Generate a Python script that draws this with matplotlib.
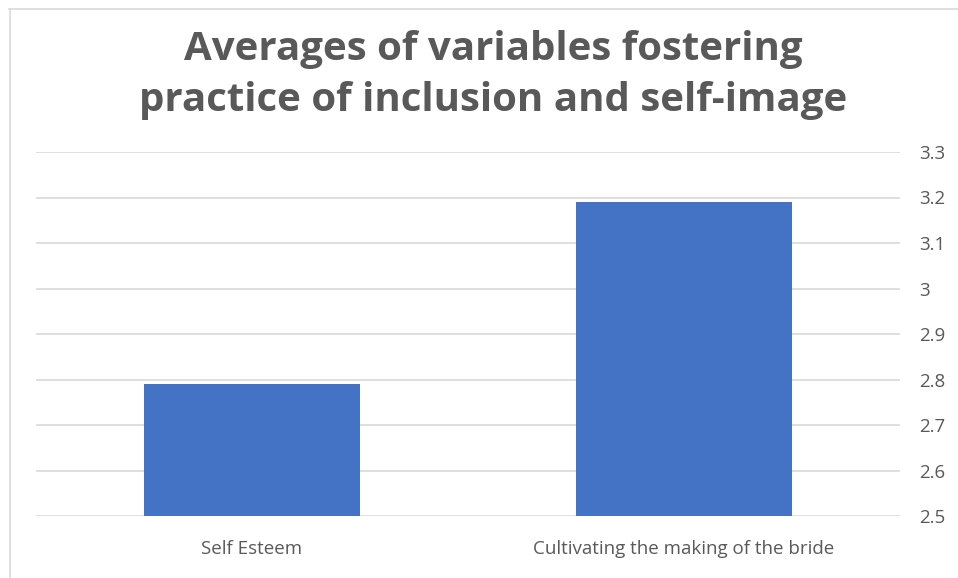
import matplotlib
matplotlib.use("Agg")
import matplotlib.pyplot as plt
from matplotlib.lines import Line2D

categories = ["Self Esteem", "Cultivating the making of the bride"]
values = [2.79, 3.19]
yticks = [2.5, 2.6, 2.7, 2.8, 2.9, 3.0, 3.1, 3.2, 3.3]
ytick_labels = ["2.5", "2.6", "2.7", "2.8", "2.9", "3", "3.1", "3.2", "3.3"]
title = "Averages of variables fostering\npractice of inclusion and self-image"

W, H = 958, 578
fig = plt.figure(figsize=(W / 100, H / 100), dpi=100)
fig.patch.set_facecolor("white")

ax = fig.add_axes([36 / W, 1 - 516 / H, (900 - 36) / W, (516 - 152) / H])
ax.bar(range(len(categories)), values, width=0.5, color="#4472C4", zorder=3)
ax.set_xlim(-0.5, 1.5)
ax.set_ylim(2.5, 3.3)
ax.set_yticks(yticks)
ax.set_yticklabels(ytick_labels)
ax.yaxis.tick_right()
ax.set_xticks(range(len(categories)))
ax.set_xticklabels(categories)
ax.grid(axis="y", color="#D9D9D9", linewidth=1.2, zorder=0)
for s in ax.spines.values():
    s.set_visible(False)
ax.tick_params(axis="both", length=0, labelsize=13.5, colors="#595959")
ax.tick_params(axis="y", pad=14)
ax.tick_params(axis="x", pad=17)
for lbl in ax.get_xticklabels() + ax.get_yticklabels():
    lbl.set_fontfamily("Open Sans")

fig.text(493 / W, 1 - 75 / H, title, ha="center", va="center", fontsize=29,
         fontweight="bold", color="#595959", family="Open Sans", linespacing=1.42)

# chart frame (only top and left edges visible)
fig.add_artist(Line2D([9 / W, 1], [1 - 8.5 / H, 1 - 8.5 / H], color="#D9D9D9", lw=1.2))
fig.add_artist(Line2D([9.5 / W, 9.5 / W], [0, 1 - 8.5 / H], color="#D9D9D9", lw=1.2))

fig.savefig("out.png", dpi=100)
